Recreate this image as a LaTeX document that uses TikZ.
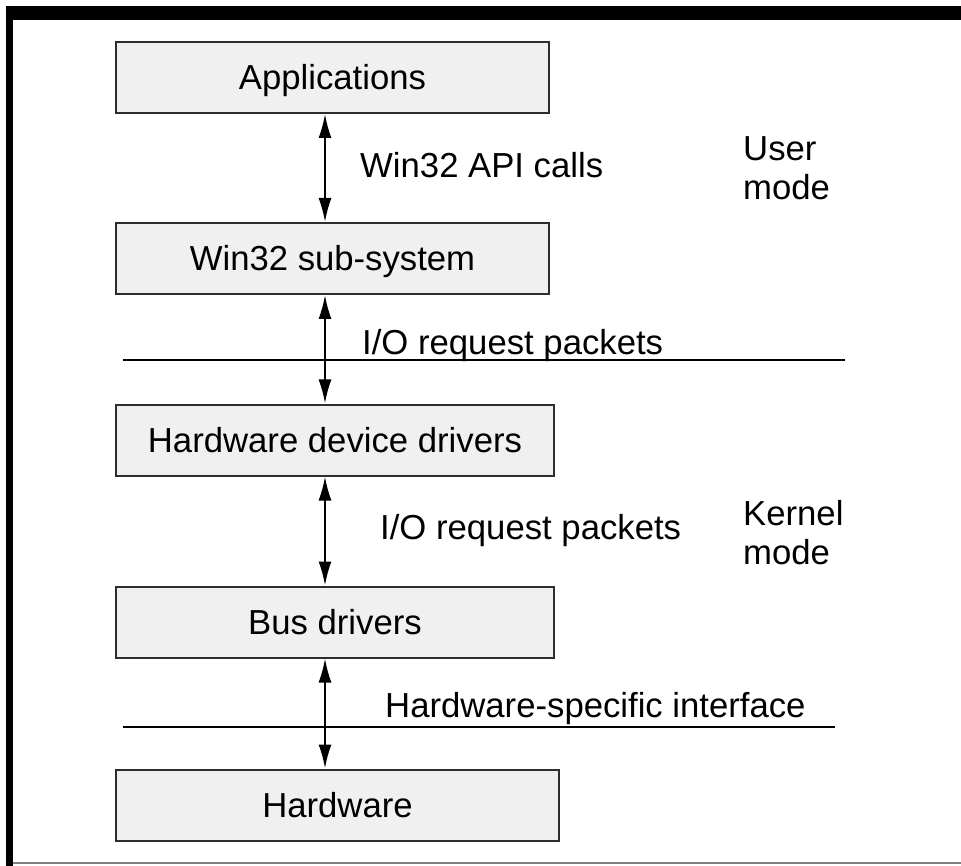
\documentclass[tikz,border=0pt]{standalone}
\usepackage{fontspec}
\setmainfont{Liberation Sans}
\usetikzlibrary{arrows.meta}
\definecolor{boxgray}{RGB}{240,240,240}
\definecolor{edgegray}{RGB}{45,45,45}
\begin{document}
\begin{tikzpicture}[x=1pt,y=-1pt,
                    font=\fontsize{34.7}{39}\selectfont,
                    layer node/.style={rectangle,draw=edgegray,fill=boxgray,line width=2pt,
                                       minimum height=71pt,inner sep=0pt,anchor=west,
                                       text height=25pt,text depth=0pt},
                    link/.style={{Latex[length=24pt,width=13pt]}-{Latex[length=24pt,width=13pt]},line width=2pt},
                    sep line/.style={line width=1.5pt},
                    side label/.style={anchor=west,inner sep=0pt,text height=25pt,text depth=0pt},
                    mode label/.style={anchor=west,inner sep=0pt,align=left}]

%DRAWING frame
 \useasboundingbox (0,0) rectangle (961,866);
 \fill[white] (0,0) rectangle (961,866);
 \fill[black] (6,6) rectangle (961,20);
 \fill[black] (6,6) rectangle (13,866);
 \draw[gray,line width=1.5pt] (13,863)--(961,863);

%Inserting the layers
  \node[layer node,minimum width=433pt] (App) at (115,77.5) {Applications};
  \node[layer node,minimum width=433pt] (Win) at (115,258.5) {Win32 sub-system};
  \node[layer node,minimum width=438pt] (Hdd) at (115,440) {Hardware device drivers};
  \node[layer node,minimum width=438pt] (Bus) at (115,622) {Bus drivers};
  \node[layer node,minimum width=443pt] (Hw) at (115,805) {Hardware};

%Separators
  \coordinate (SepUpL) at (123,360);
  \coordinate (SepUpR) at (845,360);
  \coordinate (SepLowL) at (123,727);
  \coordinate (SepLowR) at (835,727);
  \draw[sep line] (SepUpL)--(SepUpR);
  \draw[sep line] (SepLowL)--(SepLowR);

%Connections
  \draw[link] ([xshift=210pt]App.south west) -- ([xshift=210pt]Win.north west);
  \draw[link] ([xshift=210pt]Win.south west) -- ([xshift=210pt]Hdd.north west);
  \draw[link] ([xshift=210pt]Hdd.south west) -- ([xshift=210pt]Bus.north west);
  \draw[link] ([xshift=210pt]Bus.south west) -- ([xshift=210pt]Hw.north west);

%Labels
 \node[side label] (ApiCalls) at (360,165) {Win32 API calls};
 \node[side label] (IrpUp) at (362,342) {I/O request packets};
 \node[side label] (IrpLow) at (380,527) {I/O request packets};
 \node[side label] (HwIface) at (385,705) {Hardware-specific interface};
 \node[mode label] (UserMode) at (743,168) {User\\mode};
 \node[mode label] (KernelMode) at (743,533) {Kernel\\mode};

\end{tikzpicture}
\end{document}
